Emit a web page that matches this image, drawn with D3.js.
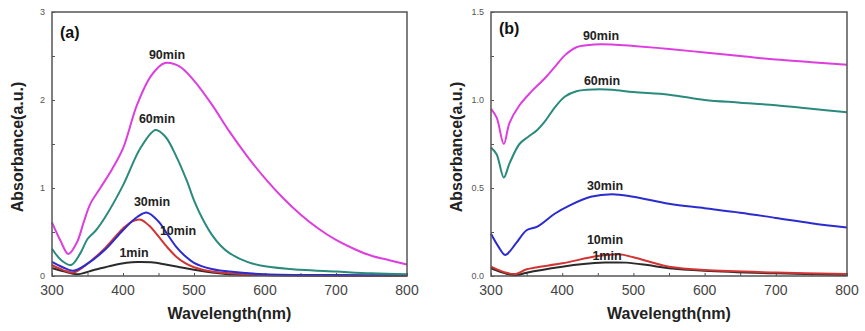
<!DOCTYPE html>
<html>
<head>
<meta charset="utf-8">
<script src="https://cdn.jsdelivr.net/npm/d3@7"></script>
<style>
  body { margin: 0; background: #fff; }
  svg { display: block; font-family: Arial, "Liberation Sans", sans-serif; }
</style>
</head>
<body>
<svg id="chart" width="865" height="331"></svg>
<script>
// panel (a) -- wavelength (nm) / absorbance pairs
const a90 = [[300,0.61],[312,0.40],[323,0.25],[335,0.38],[345,0.62],[354,0.82],[368,1.0],[385,1.22],[400,1.45],[420,1.95],[440,2.28],[459,2.42],[480,2.38],[500,2.22],[525,1.95],[550,1.64],[575,1.36],[600,1.11],[625,0.89],[650,0.70],[675,0.54],[700,0.41],[725,0.31],[750,0.23],[775,0.18],[800,0.13]]
const a60 = [[300,0.31],[313,0.18],[327,0.125],[340,0.26],[350,0.42],[362,0.52],[375,0.67],[400,1.03],[425,1.46],[446,1.66],[460,1.58],[475,1.36],[490,1.08],[500,0.86],[512,0.65],[525,0.47],[537,0.35],[550,0.26],[575,0.16],[600,0.11],[650,0.07],[700,0.05],[750,0.03],[800,0.02]]
const a30 = [[300,0.16],[315,0.10],[330,0.06],[350,0.14],[375,0.30],[400,0.52],[420,0.67],[434,0.72],[450,0.62],[462,0.48],[475,0.33],[487,0.23],[500,0.15],[525,0.08],[550,0.05],[600,0.02],[700,0.01],[800,0.01]]
const a10 = [[300,0.125],[315,0.07],[330,0.04],[350,0.14],[375,0.32],[400,0.54],[413,0.62],[425,0.64],[437,0.57],[450,0.45],[462,0.33],[475,0.22],[487,0.15],[500,0.10],[525,0.05],[550,0.03],[600,0.01],[800,0.0]]
const a1 = [[300,0.09],[318,0.05],[335,0.02],[360,0.07],[385,0.12],[405,0.15],[420,0.16],[440,0.155],[460,0.13],[480,0.10],[500,0.07],[525,0.04],[550,0.02],[600,0.01],[800,0.0]]

// panel (b)
const b90 = [[300,0.95],[308,0.90],[318,0.75],[326,0.87],[340,0.97],[356,1.045],[376,1.125],[390,1.19],[404,1.255],[420,1.30],[445,1.315],[470,1.315],[500,1.307],[550,1.29],[600,1.27],[650,1.25],[700,1.23],[750,1.215],[800,1.20]]
const b60 = [[300,0.73],[308,0.69],[318,0.56],[326,0.64],[340,0.75],[352,0.79],[365,0.83],[376,0.88],[390,0.96],[404,1.02],[420,1.05],[445,1.06],[470,1.058],[500,1.045],[550,1.03],[600,1.0],[650,0.985],[700,0.97],[750,0.95],[800,0.93]]
const b30 = [[300,0.24],[310,0.17],[320,0.12],[335,0.185],[350,0.26],[365,0.28],[390,0.355],[410,0.40],[440,0.45],[470,0.465],[500,0.45],[550,0.41],[600,0.385],[650,0.36],[700,0.33],[750,0.30],[800,0.275]]
const b10 = [[300,0.053],[320,0.02],[335,0.012],[350,0.038],[400,0.072],[450,0.113],[480,0.123],[500,0.106],[525,0.078],[550,0.053],[600,0.034],[700,0.02],[800,0.012]]
const b1 = [[300,0.044],[320,0.015],[335,0.004],[350,0.019],[400,0.053],[430,0.068],[460,0.076],[490,0.076],[520,0.062],[550,0.044],[600,0.03],[700,0.015],[800,0.006]]

const xTicks = [300, 400, 500, 600, 700, 800]
const yTicksA = [0, 1, 2, 3]
const yTicksB = [0, 0.5, 1.0, 1.5]

const colors = {m90: "#dd3edd", m60: "#2a8a7c", m30: "#2b2bcf", m10: "#d23333", m1: "#2a2a2a"}

const panels = [
  {
    tag: "(a)", left: 52, right: 407, yMax: 3, yTicks: yTicksA, yFmt: d3.format("d"), yMinor: 0.5,
    tagPos: [60, 38],
    series: [
      {data: a1, color: colors.m1}, {data: a10, color: colors.m10}, {data: a30, color: colors.m30},
      {data: a60, color: colors.m60}, {data: a90, color: colors.m90}
    ],
    labels: [["90min", 167, 59], ["60min", 157, 123], ["30min", 152, 206], ["10min", 178, 235], ["1min", 134, 257]]
  },
  {
    tag: "(b)", left: 491, right: 847, yMax: 1.5, yTicks: yTicksB, yFmt: d3.format(".1f"), yMinor: 0.25,
    tagPos: [499, 34],
    series: [
      {data: b1, color: colors.m1}, {data: b10, color: colors.m10}, {data: b30, color: colors.m30},
      {data: b60, color: colors.m60}, {data: b90, color: colors.m90}
    ],
    labels: [["90min", 601, 40], ["60min", 602, 85], ["30min", 605, 190], ["10min", 605, 244], ["1min", 607, 260]]
  }
]

const plotTop = 12, plotBottom = 276
const svg = d3.select("#chart")

panels.forEach(p => {
  const x = d3.scaleLinear().domain([300, 800]).range([p.left, p.right])
  const y = d3.scaleLinear().domain([0, p.yMax]).range([plotBottom, plotTop])

  const g = svg.append("g")

  // minor / major ticks pointing inward
  const xAxis = d3.axisBottom(x).tickValues(d3.range(300, 801, 50)).tickSize(-3).tickFormat("")
  g.append("g").attr("transform", `translate(0,${plotBottom})`).call(xAxis)
    .call(s => s.select(".domain").remove())
    .selectAll("line").attr("stroke", "#555")
  const yAxis = d3.axisLeft(y).tickValues(d3.range(0, p.yMax + 0.001, p.yMinor)).tickSize(-3).tickFormat("")
  g.append("g").attr("transform", `translate(${p.left},0)`).call(yAxis)
    .call(s => s.select(".domain").remove())
    .selectAll("line").attr("stroke", "#555")

  // tick labels
  g.selectAll("text.xt").data(xTicks).enter().append("text")
    .attr("x", d => x(d)).attr("y", 295)
    .attr("text-anchor", "middle").attr("font-size", 14).attr("fill", "#444")
    .text(d => d)
  g.selectAll("text.yt").data(p.yTicks).enter().append("text")
    .attr("x", p.left - 7).attr("y", d => y(d) + 3)
    .attr("text-anchor", "end").attr("font-size", 9).attr("fill", "#555")
    .text(d => p.yFmt(d))

  // curves
  const line = d3.line().x(d => x(d[0])).y(d => y(d[1])).curve(d3.curveCatmullRom.alpha(0.5))
  g.selectAll("path.curve").data(p.series).enter().append("path")
    .attr("d", d => line(d.data))
    .attr("fill", "none").attr("stroke", d => d.color).attr("stroke-width", 2)

  // frame
  g.append("rect").attr("x", p.left).attr("y", plotTop)
    .attr("width", p.right - p.left).attr("height", plotBottom - plotTop)
    .attr("fill", "none").attr("stroke", "#555").attr("stroke-width", 1.5)

  g.append("text").attr("x", p.tagPos[0]).attr("y", p.tagPos[1])
    .attr("font-size", 16).attr("font-weight", "bold").attr("fill", "#111").text(p.tag)

  g.selectAll("text.lab").data(p.labels).enter().append("text")
    .attr("x", d => d[1]).attr("y", d => d[2])
    .attr("text-anchor", "middle").attr("font-size", 12.5).attr("font-weight", "bold").attr("fill", "#222")
    .text(d => d[0])

  // axis titles
  g.append("text").attr("x", (p.left + p.right) / 2).attr("y", 319)
    .attr("text-anchor", "middle").attr("font-size", 16).attr("font-weight", "bold").attr("fill", "#222")
    .text("Wavelength(nm)")
  g.append("text").attr("transform", `translate(${p.left - 29},147) rotate(-90)`)
    .attr("text-anchor", "middle").attr("font-size", 16).attr("font-weight", "bold").attr("fill", "#222")
    .text("Absorbance(a.u.)")
})
</script>
</body>
</html>
